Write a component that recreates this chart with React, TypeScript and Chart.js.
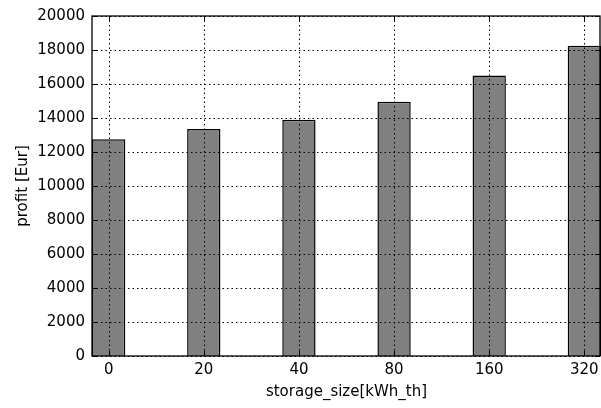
import React, { useEffect, useRef } from "react";
import { Chart, registerables } from "chart.js";

Chart.register(...registerables);

const categories = ["0", "20", "40", "80", "160", "320"];
const profits = [12750, 13360, 13900, 14960, 16500, 18250];
const yTicks = [0, 2000, 4000, 6000, 8000, 10000, 12000, 14000, 16000, 18000, 20000];
const xTitle = "storage_size[kWh_th]";
const yTitle = "profit [Eur]";

const FONT = "'DejaVu Sans', sans-serif";

const overlayPlugin = {
  id: "overlay",
  afterDatasetsDraw(chart: any) {
    const { ctx, chartArea, scales } = chart;
    const { left, top, bottom } = chartArea;
    const right = chartArea.right - 1;
    const xs = scales.x;
    const ys = scales.y;
    ctx.save();
    ctx.strokeStyle = "#000";
    ctx.lineWidth = 1;
    ctx.setLineDash([1.5, 3]);
    categories.forEach((_, i) => {
      const px = Math.round(xs.getPixelForValue(i)) + 0.5;
      ctx.beginPath();
      ctx.moveTo(px, top);
      ctx.lineTo(px, bottom);
      ctx.stroke();
    });
    yTicks.forEach((v) => {
      const py = Math.round(ys.getPixelForValue(v)) + 0.5;
      ctx.beginPath();
      ctx.moveTo(left, py);
      ctx.lineTo(right, py);
      ctx.stroke();
    });
    ctx.setLineDash([]);
    const tl = 5;
    categories.forEach((_, i) => {
      const px = Math.round(xs.getPixelForValue(i)) + 0.5;
      ctx.beginPath();
      ctx.moveTo(px, top);
      ctx.lineTo(px, top + tl);
      ctx.moveTo(px, bottom);
      ctx.lineTo(px, bottom - tl);
      ctx.stroke();
    });
    yTicks.forEach((v) => {
      const py = Math.round(ys.getPixelForValue(v)) + 0.5;
      ctx.beginPath();
      ctx.moveTo(left, py);
      ctx.lineTo(left + tl, py);
      ctx.moveTo(right, py);
      ctx.lineTo(right - tl, py);
      ctx.stroke();
    });
    ctx.lineWidth = 1.3;
    ctx.strokeRect(left, top, right - left, bottom - top);
    ctx.restore();
  },
};

export default function App() {
  const ref = useRef<HTMLCanvasElement>(null);
  useEffect(() => {
    document.body.style.margin = "0";
    const canvas = ref.current!;
    const chart = new Chart(canvas, {
      type: "bar",
      data: {
        datasets: [
          {
            data: profits.map((v, i) => ({ x: i, y: v })),
            backgroundColor: "#808080",
            borderColor: "#000",
            borderWidth: 1.5,
            barPercentage: 0.35,
            categoryPercentage: 1,
          },
        ],
      },
      options: {
        animation: false,
        responsive: false,
        maintainAspectRatio: false,
        layout: { padding: { top: 16, right: 0, left: 0, bottom: 7 } },
        plugins: { legend: { display: false }, tooltip: { enabled: false } },
        scales: {
          x: {
            type: "linear",
            offset: false,
            min: -0.175,
            max: 5.175,
            afterBuildTicks: (scale: any) => {
              scale.ticks = categories.map((_, i) => ({ value: i }));
            },
            afterFit: (scale: any) => {
              scale.height = 45;
              scale.paddingLeft = 0;
              scale.paddingRight = 0;
            },
            ticks: {
              callback: (v: any) => categories[v] ?? "",
              font: { family: FONT, size: 15 },
              color: "#000",
              padding: 5,
              maxRotation: 0,
              autoSkip: false,
            },
            grid: { display: false, drawTicks: false, offset: false },
            border: { display: false },
            title: {
              display: true,
              text: xTitle,
              font: { family: FONT, size: 15 },
              color: "#000",
              padding: { top: 0, bottom: 0 },
            },
          },
          y: {
            min: 0,
            max: 20000,
            afterBuildTicks: (scale: any) => {
              scale.ticks = yTicks.map((v) => ({ value: v }));
            },
            afterFit: (scale: any) => {
              scale.width = 92;
              scale.paddingTop = 0;
              scale.paddingBottom = 0;
            },
            ticks: {
              font: { family: FONT, size: 15 },
              color: "#000",
              padding: 7,
              callback: (v: any) => String(v),
            },
            grid: { display: false, drawTicks: false },
            border: { display: false },
            title: {
              display: true,
              text: yTitle,
              font: { family: FONT, size: 15 },
              color: "#000",
              padding: { top: 14, bottom: 0 },
            },
          },
        },
      },
      plugins: [overlayPlugin],
    });
    return () => chart.destroy();
  }, []);
  return <canvas ref={ref} width={601} height={408} style={{ display: "block" }} />;
}
